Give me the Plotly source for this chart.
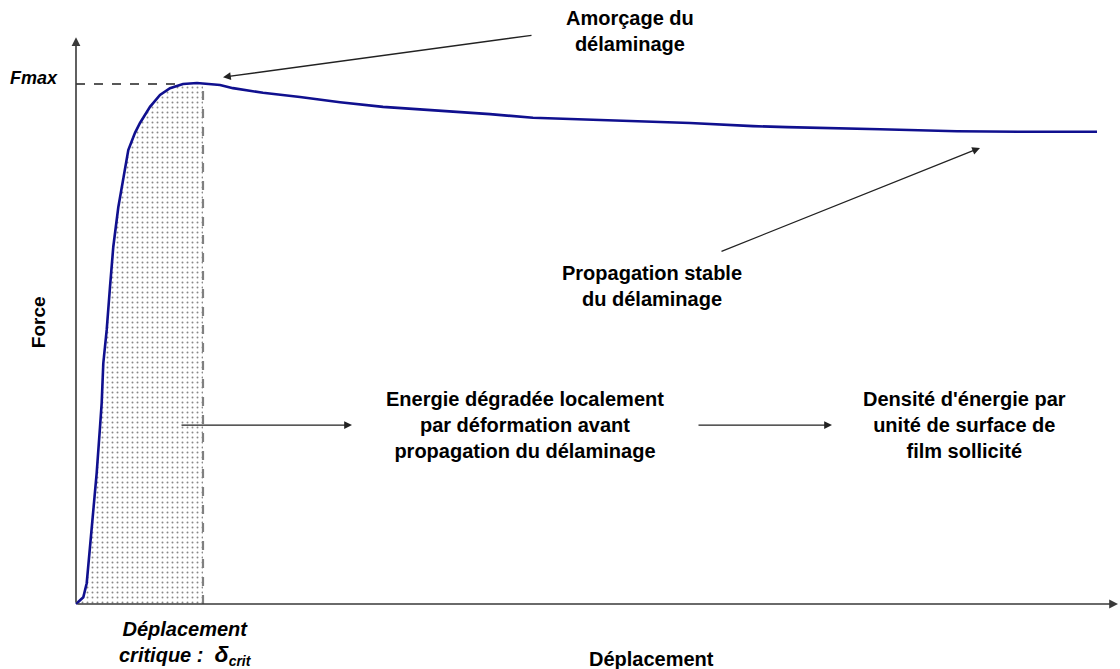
import numpy as np
import plotly.graph_objects as go

# Force–displacement curve (arbitrary units: Fmax = 100)
displacement = [0, 0.01, 0.073, 0.107, 0.14, 0.173, 0.207, 0.24, 0.257, 0.273, 0.307,
                0.34, 0.373, 0.423, 0.473, 0.523, 0.59, 0.64, 0.74, 0.84, 0.94, 1.07,
                1.21, 1.34, 1.44, 1.57, 1.87, 2.24, 2.64, 3.07, 3.57, 4.14, 4.57, 5.14,
                5.74, 6.14, 6.77, 7.11, 8.04, 8.81, 9.54, 10.21]
force = [0, 0.2, 1.3, 4.0, 11.0, 17.5, 25.2, 34.0, 38.7, 46.3, 52.7,
         61.0, 68.7, 76.3, 82.1, 87.3, 90.6, 92.5, 95.6, 97.9, 99.2, 100.0,
         100.2, 100.0, 99.8, 99.2, 98.3, 97.5, 96.5, 95.6, 95.0, 94.2, 93.5, 93.1,
         92.7, 92.5, 91.9, 91.7, 91.3, 90.9, 90.8, 90.8]
f_max = 100.0
delta_crit = 1.27

x_arr = np.array(displacement)
y_arr = np.array(force)
f_crit = float(np.interp(delta_crit, x_arr, y_arr))
mask = x_arr < delta_crit
fill_x = list(x_arr[mask]) + [delta_crit]
fill_y = list(y_arr[mask]) + [f_crit]

FONT = "Liberation Sans, Arial, sans-serif"
navy = "#10108f"

fig = go.Figure()

# dotted area (energy before crack propagation)
fig.add_trace(go.Scatter(
    x=fill_x + [delta_crit, 0], y=fill_y + [0, 0], mode="lines",
    line=dict(width=0), fill="toself", fillcolor="rgba(255,255,255,0)",
    fillpattern=dict(shape=".", fgcolor="#111111", bgcolor="white", size=5, solidity=0.12),
    hoverinfo="skip", showlegend=False))

# dashed vertical at delta_crit
fig.add_trace(go.Scatter(x=[delta_crit, delta_crit], y=[0, f_crit], mode="lines",
                         line=dict(color="#808080", width=2.2, dash="dash"),
                         hoverinfo="skip", showlegend=False))
# dashed Fmax line
fig.add_trace(go.Scatter(x=[0, 1.1], y=[f_max, f_max], mode="lines",
                         line=dict(color="#222222", width=1.3, dash="dash"),
                         hoverinfo="skip", showlegend=False))

# curve
fig.add_trace(go.Scatter(x=displacement, y=force, mode="lines",
                         line=dict(color=navy, width=2.6),
                         showlegend=False))

ann = []
axis_col = "#3a3a3a"
# axes with arrows
ann.append(dict(x=10.42, y=0, ax=0, ay=0, xref="x", yref="y", axref="x", ayref="y",
                text="", showarrow=True, arrowhead=2, arrowsize=1.1, arrowwidth=1.6,
                arrowcolor=axis_col, standoff=0))
ann.append(dict(x=0, y=109, ax=0, ay=0, xref="x", yref="y", axref="x", ayref="y",
                text="", showarrow=True, arrowhead=2, arrowsize=1.1, arrowwidth=1.6,
                arrowcolor=axis_col, standoff=0))

# pointer arrows
def arrow(x0, y0, x1, y1):
    ann.append(dict(x=x1, y=y1, ax=x0, ay=y0, xref="x", yref="y", axref="x", ayref="y",
                    text="", showarrow=True, arrowhead=2, arrowsize=1.2, arrowwidth=1.3,
                    arrowcolor="#222222", standoff=0))

arrow(4.57, 109.4, 1.47, 101.3)
arrow(6.44, 67.7, 9.04, 87.7)
arrow(1.04, 34.4, 2.76, 34.4)
arrow(6.21, 34.4, 7.56, 34.4)

def label(x, y, text, size=20, style="normal", angle=0):
    ann.append(dict(x=x, y=y, xref="x", yref="y", text=text, showarrow=False,
                    xanchor="center", yanchor="middle", align="center", textangle=angle,
                    font=dict(family=FONT, size=size, color="black", weight="bold", style=style)))

label(-0.42, 101.2, "Fmax", size=18, style="italic")
label(-0.38, 54.2, "Force", size=19, angle=-90)
label(5.54, 110.2, "Amorçage du<br>délaminage")
label(5.76, 61.2, "Propagation stable<br>du délaminage")
label(4.49, 34.4, "Energie dégradée localement<br>par déformation avant<br>propagation du délaminage")
label(8.88, 34.4, "Densité d'énergie par<br>unité de surface de<br>film sollicité")
label(5.75, -10.5, "Déplacement")
label(1.09, -7.6, "Déplacement<br>critique :  <span style='font-size:23px'>δ</span><sub>crit</sub>",
      style="italic")

fig.update_layout(
    width=1120, height=669,
    margin=dict(l=0, r=0, t=0, b=0),
    paper_bgcolor="white", plot_bgcolor="white",
    xaxis=dict(range=[-0.76, 10.44], visible=False, fixedrange=True),
    yaxis=dict(range=[-12.5, 116.15], visible=False, fixedrange=True),
    annotations=ann,
    showlegend=False,
)

fig.write_html("out.html", config={"displayModeBar": False},
               post_script="document.body.style.margin='0';")
